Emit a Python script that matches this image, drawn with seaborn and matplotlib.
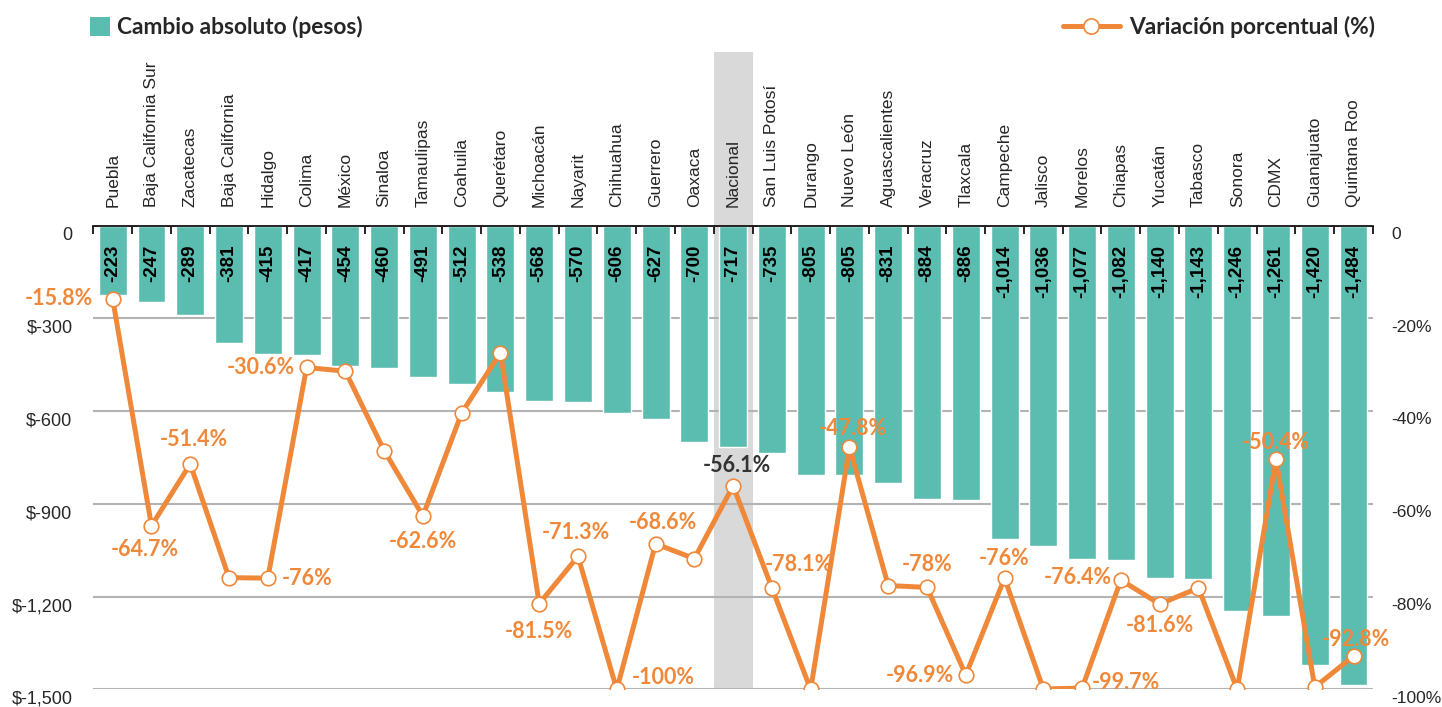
import numpy as np
import pandas as pd
import seaborn as sns
import matplotlib.pyplot as plt
import matplotlib.transforms as mtransforms
from matplotlib.patches import Patch
from matplotlib.lines import Line2D

# datos
estados = ["Puebla", "Baja California Sur", "Zacatecas", "Baja California", "Hidalgo",
           "Colima", "México", "Sinaloa", "Tamaulipas", "Coahuila", "Querétaro",
           "Michoacán", "Nayarit", "Chihuahua", "Guerrero", "Oaxaca", "Nacional",
           "San Luis Potosí", "Durango", "Nuevo León", "Aguascalientes", "Veracruz",
           "Tlaxcala", "Campeche", "Jalisco", "Morelos", "Chiapas", "Yucatán",
           "Tabasco", "Sonora", "CDMX", "Guanajuato", "Quintana Roo"]
cambio = [-223, -247, -289, -381, -415, -417, -454, -460, -491, -512, -538,
          -568, -570, -606, -627, -700, -717, -735, -805, -805, -831, -884,
          -886, -1014, -1036, -1077, -1082, -1140, -1143, -1246, -1261, -1420, -1484]
variacion = [-15.8, -64.7, -51.4, -75.9, -76.0, -30.6, -31.4, -48.5, -62.6, -40.4, -27.4,
             -81.5, -71.3, -100.0, -68.6, -71.8, -56.1, -78.1, -100.0, -47.8, -77.6, -78.0,
             -96.9, -76.0, -99.9, -99.7, -76.4, -81.6, -78.1, -100.0, -50.4, -99.5, -92.8]
ticks_izq = [0, -300, -600, -900, -1200, -1500]
ticks_der = [0, -20, -40, -60, -80, -100]

# etiquetas del porcentaje: (indice, ha, dx, dy) en pixeles
etiquetas = [(0, "right", -20, 0), (1, "center", -7, -24), (2, "center", 4, 24),
             (4, "left", 14, 0), (5, "right", -12, 0), (8, "center", 0, -26),
             (11, "center", 0, -28), (12, "center", -2, 24), (13, "left", 15, 12),
             (14, "center", 7, 21), (16, "center", 4, 20), (17, "left", -7, 23),
             (19, "center", 3, 19), (21, "center", 0, 23), (22, "right", -12, 0),
             (23, "center", 0, 20), (25, "left", 10, 6), (26, "right", -9, 2),
             (27, "center", 0, -21), (30, "center", 0, 17), (32, "center", 2, 17)]

teal = "#5BBCB0"
naranja = "#F0883A"
n = len(estados)
idx_nac = estados.index("Nacional")

sns.set_style("white")
plt.rcParams["font.family"] = ["Liberation Sans", "DejaVu Sans"]

df = pd.DataFrame({"estado": estados, "cambio": cambio, "variacion": variacion, "pos": np.arange(n)})

fig, ax = plt.subplots(figsize=(14.42, 7.07), dpi=100)
fig.subplots_adjust(left=0.0647, right=0.9521, top=0.681, bottom=0.0248)

sns.barplot(data=df, x="estado", y="cambio", color=teal, saturation=1, width=0.72, ax=ax, zorder=2)

# banda gris de Nacional
ax.axvspan(idx_nac - 0.5, idx_nac + 0.5, ymin=0, ymax=1.374, color="#D9D9D9",
           clip_on=False, zorder=0.2, lw=0)

# valores dentro de las barras, un poco por debajo del eje superior
baja = ax.transData + mtransforms.ScaledTranslation(0, -0.19, fig.dpi_scale_trans)
for i, v in enumerate(cambio):
    ax.text(i, 0, f"{v:,}", transform=baja, rotation=90, ha="center", va="top",
            fontsize=13.5, fontweight="bold", color="black", zorder=3)

ax.set_ylim(-1500, 0)
ax.set_yticks(ticks_izq)
ax.set_yticklabels(["0"] + [f"$-{abs(t):,}" for t in ticks_izq[1:]])
ax.yaxis.grid(True, color="#B3B3B3", lw=1.5)
ax.set_axisbelow(True)
ax.xaxis.tick_top()
ax.set_xticks(np.arange(n))
ax.set_xticklabels(estados, rotation=90, fontsize=12.5)
ax.set_xticks(np.arange(-0.5, n), minor=True)
ax.tick_params(axis="x", which="major", length=0, pad=13, top=True, bottom=False)
ax.tick_params(axis="x", which="minor", direction="in", length=6, width=1.2,
               color="black", top=True, bottom=False)
ax.tick_params(axis="y", length=0, pad=15, labelsize=13)
ax.set_xlabel("")
ax.set_ylabel("")
for s in ["left", "right", "bottom"]:
    ax.spines[s].set_visible(False)
ax.spines["top"].set_color("black")
ax.spines["top"].set_linewidth(1.2)

off = mtransforms.ScaledTranslation(0, -1 / 72, fig.dpi_scale_trans)
for lab in ax.get_yticklabels():
    lab.set_va("top")
    lab.set_transform(lab.get_transform() + off)

# linea de variacion porcentual
ax2 = ax.twinx()
sns.lineplot(data=df, x="pos", y="variacion", ax=ax2, color=naranja, lw=3.6,
             marker="o", markersize=10.5, markerfacecolor="white",
             markeredgecolor=naranja, markeredgewidth=1.2, zorder=4)
ax2.set_ylim(-100, 0)
ax2.set_yticks(ticks_der)
ax2.set_yticklabels(["0"] + [f"{t}%" for t in ticks_der[1:]])
ax2.tick_params(axis="y", length=0, pad=13, labelsize=12.5)
ax2.set_ylabel("")
for s in ax2.spines.values():
    s.set_visible(False)
for lab in ax2.get_yticklabels():
    lab.set_va("top")
    lab.set_transform(lab.get_transform() + off)

for i, ha, dx, dy in etiquetas:
    v = variacion[i]
    col = "#333333" if i == idx_nac else naranja
    ax2.annotate(f"{v:g}%", (i, v), xytext=(dx, dy), textcoords="offset pixels",
                 ha=ha, va="center", fontsize=15.5, fontweight="bold", color=col,
                 family=["Lato", "DejaVu Sans"], zorder=5)

ax.set_xlim(-0.5, n - 0.5)
ax2.set_xlim(-0.5, n - 0.5)

# leyendas
h1 = Patch(facecolor=teal, edgecolor="none")
h2 = Line2D([], [], color=naranja, lw=3.6, marker="o", markersize=11,
            markerfacecolor="white", markeredgecolor=naranja, markeredgewidth=1.2)
leg_font = {"family": ["Lato", "DejaVu Sans"], "weight": "bold", "size": 16.4}
fig.legend(handles=[h1], labels=["Cambio absoluto (pesos)"], loc="upper left",
           bbox_to_anchor=(0.0624, 0.977), frameon=False, prop=leg_font,
           handlelength=0.9, handleheight=0.9, handletextpad=0.3,
           borderpad=0, borderaxespad=0)
fig.legend(handles=[h2], labels=["Variación porcentual (%)"], loc="upper right",
           bbox_to_anchor=(0.9535, 0.977), frameon=False, prop=leg_font,
           handlelength=2.5, handletextpad=0.4, borderpad=0, borderaxespad=0)

fig.savefig("out.png", dpi=100)
